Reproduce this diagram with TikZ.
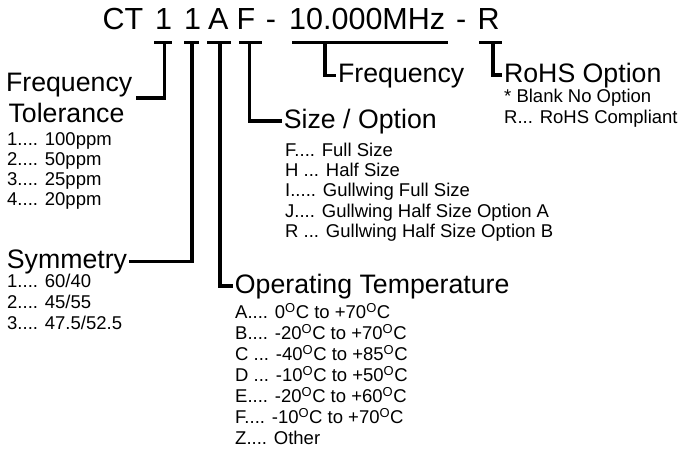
\documentclass[tikz,border=0pt]{standalone}
\usepackage{fontspec}
\setmainfont{Liberation Sans}
\newcommand{\dg}{\textsuperscript{O}}
\tikzset{
  code/.style={font=\fontsize{30.5}{36}\selectfont, inner sep=0pt, anchor=base west},
  head/.style={font=\fontsize{26.7}{32}\selectfont, inner sep=1.5pt, anchor=base west},
  item/.style={font=\fontsize{18.5}{21}\selectfont, inner sep=0pt, anchor=base west},
  lead/.style={line width=3.6pt},
}
\begin{document}
\begin{tikzpicture}[x=1pt,y=-1pt]
\useasboundingbox (0,0) rectangle (682,450);
% part number
\node[code] (ct) at (102.5,29.5) {CT};
\node[code] (d1) at (155,29.5) {1};
\node[code] (d2) at (184,29.5) {1};
\node[code] (dA) at (208,29.5) {A};
\node[code] (dF) at (236.5,29.5) {F};
\node[code] (h1) at (265.7,29.5) {-};
\node[code] (fr) at (289,29.5) {10.000MHz};
\node[code] (h2) at (456,29.5) {-};
\node[code] (dR) at (477.5,29.5) {R};
% headings
\node[head] (frqL) at (4.4,91) {Frequency};
\node[head] (tolL) at (6.9,122) {Tolerance};
\node[head] (symL) at (5.2,268) {Symmetry};
\node[head] (opT) at (233.2,293) {Operating Temperature};
\node[head] (szO) at (282.2,128) {Size / Option};
\node[head] (frqR) at (336.4,82) {Frequency};
\node[head] (rohs) at (502.4,82) {RoHS Option};
% tolerance
\node[item] (tl0) at (7,145) {1.... 100ppm};
\node[item] (tl1) at (7,165) {2.... 50ppm};
\node[item] (tl2) at (7,185) {3.... 25ppm};
\node[item] (tl3) at (7,205) {4.... 20ppm};
% symmetry
\node[item] (sl0) at (7,287) {1.... 60/40};
\node[item] (sl1) at (7,308) {2.... 45/55};
\node[item] (sl2) at (7,329) {3.... 47.5/52.5};
% size
\node[item] (zl0) at (285,156) {F.... Full Size};
\node[item] (zl1) at (285,176.4) {H ... Half Size};
\node[item] (zl2) at (285,196.8) {I..... Gullwing Full Size};
\node[item] (zl3) at (285,217.2) {J.... Gullwing Half Size Option A};
\node[item] (zl4) at (285,237.6) {R ... Gullwing Half Size Option B};
% temperature
\node[item] (ol0) at (235,318.5) {A.... 0\dg C to +70\dg C};
\node[item] (ol1) at (235,339.5) {B.... -20\dg C to +70\dg C};
\node[item] (ol2) at (235,360.5) {C ... -40\dg C to +85\dg C};
\node[item] (ol3) at (235,381.5) {D ... -10\dg C to +50\dg C};
\node[item] (ol4) at (235,402.5) {E.... -20\dg C to +60\dg C};
\node[item] (ol5) at (235,423.5) {F.... -10\dg C to +70\dg C};
\node[item] (ol6) at (235,444.5) {Z.... Other};
% rohs
\node[item] (rl0) at (504,102.5) {* Blank No Option};
\node[item] (rl1) at (504,123.5) {R... RoHS Compliant};
% brackets
\coordinate (b1) at (164.5,42.5);
\coordinate (b2) at (192,42.5);
\coordinate (bA) at (220,42.5);
\coordinate (bF) at (249.5,42.5);
\coordinate (bM) at (325,42.5);
\coordinate (bR) at (493,42.5);
\draw[lead] (154,42.5) -- (172,42.5) (b1) |- ([xshift=2pt]frqL.south east);
\draw[lead] (184,42.5) -- (199,42.5) (b2) |- (symL.east);
\draw[lead] (207,42.5) -- (231,42.5) (bA) |- (opT.west);
\draw[lead] (239,42.5) -- (262,42.5) (bF) |- (szO.west);
\draw[lead] (292,42.5) -- (448,42.5) (bM) |- (frqR.west);
\draw[lead] (479,42.5) -- (502,42.5) (bR) |- (rohs.west);
\end{tikzpicture}
\end{document}
